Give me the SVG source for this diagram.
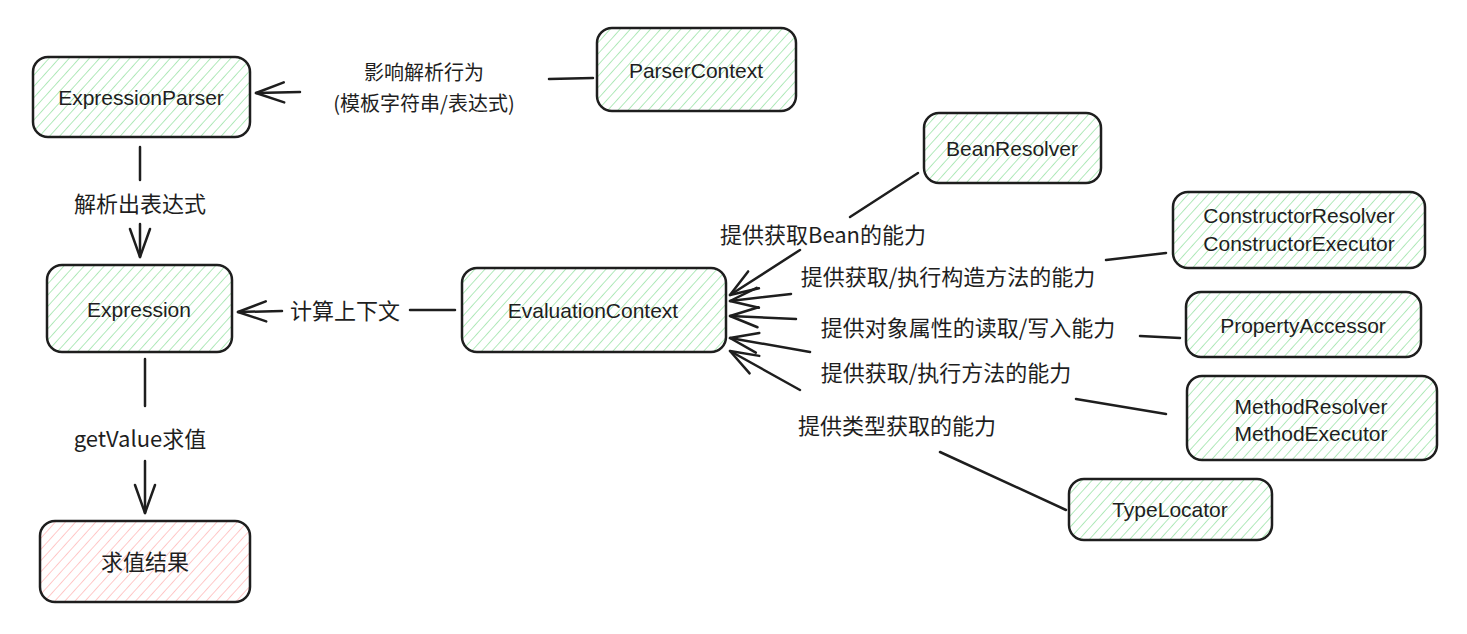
<svg xmlns="http://www.w3.org/2000/svg" width="1467" height="634" viewBox="0 0 1467 634">
<defs>
<pattern id="hg" patternUnits="userSpaceOnUse" width="7.5" height="7.5" patternTransform="rotate(42)">
<line x1="0" y1="0" x2="0" y2="7.5" stroke="#9fe4ab" stroke-width="1.6"/>
</pattern>
<pattern id="hr" patternUnits="userSpaceOnUse" width="7.5" height="7.5" patternTransform="rotate(42)">
<line x1="0" y1="0" x2="0" y2="7.5" stroke="#ffbcbc" stroke-width="1.6"/>
</pattern>
<marker id="arr" markerUnits="userSpaceOnUse" markerWidth="40" markerHeight="30" viewBox="-35 -15 40 30" refX="0" refY="0" orient="auto">
<path d="M-28,-10 L0,0 L-28,10" fill="none" stroke="#1e1e1e" stroke-width="2.5" stroke-linecap="round" stroke-linejoin="round"/>
</marker>
</defs>
<style>
.box{stroke:#1e1e1e;stroke-width:2.5}
.g{fill:url(#hg)}
.r{fill:url(#hr)}
.t{font-family:"Liberation Sans","Noto Sans CJK SC",sans-serif;font-size:21px;fill:#1e1e1e;text-anchor:middle;dominant-baseline:central}
.c{font-family:"Noto Sans CJK SC",sans-serif;font-size:22px;fill:#1e1e1e;text-anchor:middle;dominant-baseline:central}
.c2{font-size:20px}
.e{fill:none;stroke:#1e1e1e;stroke-width:2.5;stroke-linecap:round}
</style>
<rect width="1467" height="634" fill="#ffffff"/>

<g id="connectors">
<line class="e" x1="593" y1="78" x2="549" y2="79"/>
<line class="e" x1="300" y1="92" x2="256" y2="93" marker-end="url(#arr)"/>
<text class="c c2" x="424" y="71">影响解析行为</text>
<text class="c c2" x="424" y="102">(模板字符串/表达式)</text>

<line class="e" x1="140" y1="147" x2="140" y2="180"/>
<line class="e" x1="140" y1="224" x2="140" y2="257" marker-end="url(#arr)"/>
<text class="c" x="140" y="202">解析出表达式</text>

<line class="e" x1="455" y1="310" x2="410" y2="310"/>
<line class="e" x1="282" y1="311" x2="238" y2="312" marker-end="url(#arr)"/>
<text class="c" x="345" y="309">计算上下文</text>

<line class="e" x1="145" y1="359" x2="145" y2="406"/>
<line class="e" x1="145" y1="461" x2="145" y2="513" marker-end="url(#arr)"/>
<text class="c" x="140" y="437">getValue求值</text>

<line class="e" x1="918" y1="173" x2="850" y2="217"/>
<line class="e" x1="800" y1="250" x2="730" y2="295" marker-end="url(#arr)"/>
<text class="c" x="823" y="233">提供获取Bean的能力</text>

<line class="e" x1="1166" y1="253" x2="1106" y2="260"/>
<line class="e" x1="791" y1="294" x2="730" y2="301" marker-end="url(#arr)"/>
<text class="c" x="948" y="275">提供获取/执行构造方法的能力</text>

<line class="e" x1="1180" y1="338" x2="1140" y2="336"/>
<line class="e" x1="796" y1="319" x2="730" y2="316" marker-end="url(#arr)"/>
<text class="c" x="968" y="326">提供对象属性的读取/写入能力</text>

<line class="e" x1="1166" y1="414" x2="1076" y2="399"/>
<line class="e" x1="810" y1="352" x2="730" y2="338" marker-end="url(#arr)"/>
<text class="c" x="946" y="371">提供获取/执行方法的能力</text>

<line class="e" x1="1066" y1="510" x2="940" y2="452"/>
<line class="e" x1="800" y1="390" x2="730" y2="351" marker-end="url(#arr)"/>
<text class="c" x="897" y="424">提供类型获取的能力</text>
</g>

<g id="node-expressionparser">
<rect class="box g" x="33" y="57" width="217" height="80" rx="15"/>
<text class="t" x="141" y="97">ExpressionParser</text>
</g>
<g id="node-parsercontext">
<rect class="box g" x="597" y="28" width="199" height="83" rx="15"/>
<text class="t" x="696" y="70">ParserContext</text>
</g>
<g id="node-beanresolver">
<rect class="box g" x="924" y="113" width="177" height="70" rx="15"/>
<text class="t" x="1012" y="148">BeanResolver</text>
</g>
<g id="node-constructor">
<rect class="box g" x="1173" y="192" width="252" height="76" rx="15"/>
<text class="t" x="1299" y="215">ConstructorResolver</text>
<text class="t" x="1299" y="243">ConstructorExecutor</text>
</g>
<g id="node-propertyaccessor">
<rect class="box g" x="1186" y="292" width="235" height="65" rx="15"/>
<text class="t" x="1303" y="325">PropertyAccessor</text>
</g>
<g id="node-method">
<rect class="box g" x="1187" y="376" width="250" height="84" rx="15"/>
<text class="t" x="1311" y="406">MethodResolver</text>
<text class="t" x="1311" y="433">MethodExecutor</text>
</g>
<g id="node-typelocator">
<rect class="box g" x="1069" y="479" width="203" height="61" rx="15"/>
<text class="t" x="1170" y="509">TypeLocator</text>
</g>
<g id="node-expression">
<rect class="box g" x="47" y="265" width="185" height="87" rx="15"/>
<text class="t" x="139" y="309">Expression</text>
</g>
<g id="node-evaluationcontext">
<rect class="box g" x="462" y="268" width="264" height="84" rx="15"/>
<text class="t" x="593" y="310">EvaluationContext</text>
</g>
<g id="node-result">
<rect class="box r" x="40" y="521" width="210" height="81" rx="15"/>
<text class="c" x="145" y="560">求值结果</text>
</g>
</svg>
